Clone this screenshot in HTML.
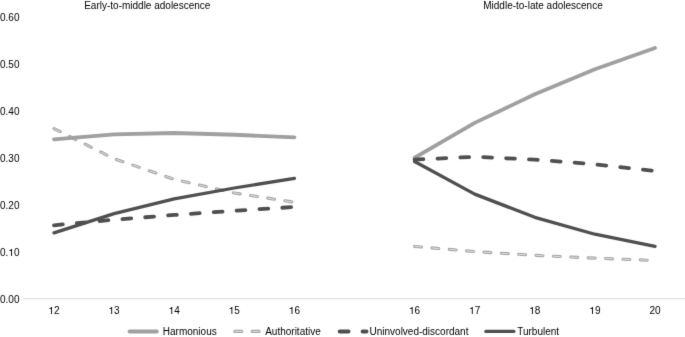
<!DOCTYPE html>
<html><head><meta charset="utf-8"><style>
html,body{margin:0;padding:0;background:#fff;width:685px;height:337px;overflow:hidden}
svg{display:block;will-change:transform;}
text{font-family:"Liberation Sans",sans-serif;font-size:10px;fill:#000;}
</style></head><body>
<svg width="685" height="337" viewBox="0 0 685 337">
<defs><filter id="sf" x="0" y="0" width="685" height="337" filterUnits="userSpaceOnUse" color-interpolation-filters="sRGB"><feConvolveMatrix order="3" kernelMatrix="0.0064 0.08 0.0064 0.08 0.6544 0.08 0.0064 0.08 0.0064" edgeMode="duplicate"/></filter></defs><g filter="url(#sf)"><rect width="685" height="337" fill="#fff"/>
<line x1="23.1" y1="298.7" x2="685" y2="298.7" stroke="#d9d9d9" stroke-width="1"/>
<text x="0.04" y="21">0.60</text>
<text x="0.04" y="68">0.50</text>
<text x="0.04" y="115">0.40</text>
<text x="0.04" y="162">0.30</text>
<text x="0.04" y="209">0.20</text>
<text x="0.04" y="256">0.</text><path d="M11.97,256.00 L11.97,248.97 L11.23,248.97 L10.93,249.45 L10.28,249.90 L9.33,250.20 L9.33,251.10 L11.07,250.85 L11.07,256.00Z" fill="#000"/><text x="13.94" y="256">0</text>
<text x="0.04" y="303">0.00</text>
<path d="M52.03,314.00 L52.03,306.97 L51.29,306.97 L50.99,307.45 L50.34,307.90 L49.39,308.20 L49.39,309.10 L51.13,308.85 L51.13,314.00Z" fill="#000"/><text x="54.00" y="314">2</text>
<path d="M112.13,314.00 L112.13,306.97 L111.39,306.97 L111.09,307.45 L110.44,307.90 L109.49,308.20 L109.49,309.10 L111.23,308.85 L111.23,314.00Z" fill="#000"/><text x="114.10" y="314">3</text>
<path d="M172.23,314.00 L172.23,306.97 L171.49,306.97 L171.19,307.45 L170.54,307.90 L169.59,308.20 L169.59,309.10 L171.33,308.85 L171.33,314.00Z" fill="#000"/><text x="174.20" y="314">4</text>
<path d="M232.33,314.00 L232.33,306.97 L231.59,306.97 L231.29,307.45 L230.64,307.90 L229.69,308.20 L229.69,309.10 L231.43,308.85 L231.43,314.00Z" fill="#000"/><text x="234.30" y="314">5</text>
<path d="M292.43,314.00 L292.43,306.97 L291.69,306.97 L291.39,307.45 L290.74,307.90 L289.79,308.20 L289.79,309.10 L291.53,308.85 L291.53,314.00Z" fill="#000"/><text x="294.40" y="314">6</text>
<path d="M412.63,314.00 L412.63,306.97 L411.89,306.97 L411.59,307.45 L410.94,307.90 L409.99,308.20 L409.99,309.10 L411.73,308.85 L411.73,314.00Z" fill="#000"/><text x="414.60" y="314">6</text>
<path d="M472.73,314.00 L472.73,306.97 L471.99,306.97 L471.69,307.45 L471.04,307.90 L470.09,308.20 L470.09,309.10 L471.83,308.85 L471.83,314.00Z" fill="#000"/><text x="474.70" y="314">7</text>
<path d="M532.83,314.00 L532.83,306.97 L532.09,306.97 L531.79,307.45 L531.14,307.90 L530.19,308.20 L530.19,309.10 L531.93,308.85 L531.93,314.00Z" fill="#000"/><text x="534.80" y="314">8</text>
<path d="M592.93,314.00 L592.93,306.97 L592.19,306.97 L591.89,307.45 L591.24,307.90 L590.29,308.20 L590.29,309.10 L592.03,308.85 L592.03,314.00Z" fill="#000"/><text x="594.90" y="314">9</text>
<text x="649.44" y="314">20</text>
<text x="84.2" y="9.2">Early-to-middle adolescence</text>
<text x="543" y="9.2" text-anchor="middle">Middle-to-late adolescence</text>
<polyline points="54.00,128.65 114.10,158.68 174.20,179.32 234.30,192.93 294.40,202.31" stroke="#a4a4a4" stroke-width="3.1" fill="none" stroke-linecap="round" stroke-dasharray="6.9 10.5"/><polyline points="54.00,128.65 114.10,158.68 174.20,179.32 234.30,192.93 294.40,202.31" stroke="#e0e0e0" stroke-width="1.0" fill="none" stroke-linecap="round" stroke-dasharray="6.9 10.5"/>
<polyline points="414.60,246.42 474.70,251.58 534.80,255.33 594.90,258.15 655.00,260.49" stroke="#a4a4a4" stroke-width="3.1" fill="none" stroke-linecap="round" stroke-dasharray="6.9 10.5"/><polyline points="414.60,246.42 474.70,251.58 534.80,255.33 594.90,258.15 655.00,260.49" stroke="#e0e0e0" stroke-width="1.0" fill="none" stroke-linecap="round" stroke-dasharray="6.9 10.5"/>
<polyline points="54.00,139.44 114.10,134.28 174.20,133.01 234.30,134.75 294.40,137.38" stroke="#a0a0a0" stroke-width="3.8" fill="none" stroke-linecap="round" stroke-linejoin="round"/>
<polyline points="414.60,157.74 474.70,122.88 534.80,94.26 594.90,69.20 655.00,47.95" stroke="#a0a0a0" stroke-width="3.8" fill="none" stroke-linecap="round" stroke-linejoin="round"/>
<polyline points="54.00,225.30 114.10,219.67 174.20,214.98 234.30,210.76 294.40,207.01" stroke="#4f4f4f" stroke-width="3.8" fill="none" stroke-linecap="round" stroke-linejoin="round" stroke-dasharray="8.8 14.1"/>
<polyline points="414.60,159.62 474.70,156.80 534.80,159.62 594.90,164.31 655.00,170.88" stroke="#4f4f4f" stroke-width="3.8" fill="none" stroke-linecap="round" stroke-linejoin="round" stroke-dasharray="8.8 14.1"/>
<polyline points="54.00,232.81 114.10,213.57 174.20,198.80 234.30,188.00 294.40,178.38" stroke="#4f4f4f" stroke-width="3.3" fill="none" stroke-linecap="round" stroke-linejoin="round"/>
<polyline points="414.60,161.49 474.70,194.10 534.80,217.33 594.90,234.22 655.00,246.42" stroke="#4f4f4f" stroke-width="3.3" fill="none" stroke-linecap="round" stroke-linejoin="round"/>
<line x1="129.6" y1="331.4" x2="156.7" y2="331.4" stroke="#a0a0a0" stroke-width="4" stroke-linecap="round"/>
<text x="162.8" y="334.6">Harmonious</text>
<line x1="234.8" y1="331.4" x2="261" y2="331.4" stroke="#a4a4a4" stroke-width="3.1" stroke-linecap="round" stroke-dasharray="6.9 10.5"/>
<line x1="234.8" y1="331.4" x2="261" y2="331.4" stroke="#e0e0e0" stroke-width="1.0" stroke-linecap="round" stroke-dasharray="6.9 10.5"/>
<text x="265.2" y="334.6">Authoritative</text>
<line x1="339.7" y1="331.4" x2="366.5" y2="331.4" stroke="#4f4f4f" stroke-width="4" stroke-linecap="round" stroke-dasharray="8.8 14.1"/>
<text x="369.5" y="334.6">Uninvolved-discordant</text>
<line x1="485.9" y1="331.4" x2="513.9" y2="331.4" stroke="#4f4f4f" stroke-width="3.3" stroke-linecap="round"/>
<text x="517.2" y="334.6">Turbulent</text>
</g></svg>
</body></html>
